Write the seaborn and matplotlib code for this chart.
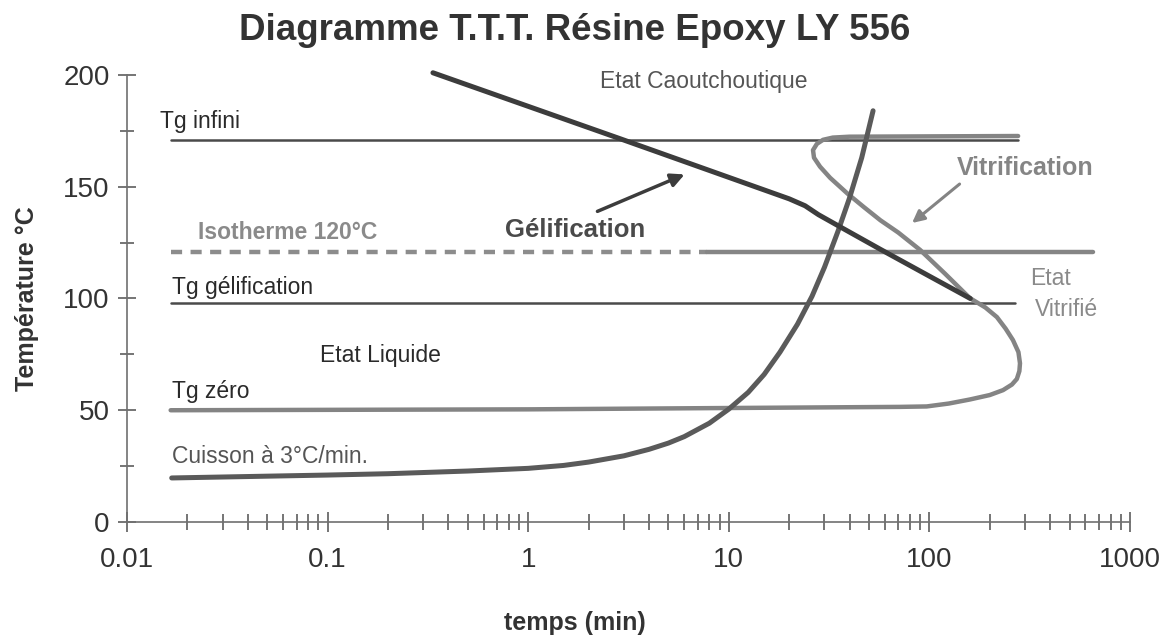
import numpy as np
import pandas as pd
import matplotlib
matplotlib.use("Agg")
import matplotlib.pyplot as plt
import seaborn as sns
from matplotlib.ticker import LogLocator, FixedLocator, NullFormatter

tg_infini_t = [0.0165, 277]
tg_infini_T = [171, 171]

iso_pointille_t = [0.0165, 7.8]
iso_continu_t = [7.8, 655]
iso_T = [121, 121]

tg_gel_t = [0.0165, 267]
tg_gel_T = [98, 98]

cuisson_t = [0.0167, 0.05, 0.1, 0.2, 0.5, 1, 1.5, 2, 3, 4, 5, 6, 8, 10, 12.5, 15,
             18, 22, 26, 30, 35, 40, 46, 52.4]
cuisson_T = [19.7, 20.5, 21, 21.6, 22.8, 24, 25.3, 26.8, 29.6, 32.5, 35.3, 38.2, 44.2, 50.5, 58, 66,
             76, 88.5, 101, 114, 130, 145, 163, 184]

gel_t = [0.335, 2.87, 20, 24, 28, 36, 57, 100, 160]
gel_T = [201, 171.5, 144.6, 141.5, 137.5, 132, 122, 110, 100]

# Tg zero + courbe de vitrification (une seule courbe)
vit_t = [0.0165, 1.0, 10, 71, 97, 125, 159, 200, 233, 258, 273, 281, 283, 278, 261, 240, 217, 190,
         159, 120, 90, 70, 57, 47, 39, 32, 28.5, 26.6, 26.3, 27.5, 29.5, 33, 40, 277]
vit_T = [50, 50.4, 51, 51.5, 51.7, 53, 54.8, 56.8, 59, 61.5, 64, 67.5, 71, 76, 81.4, 86.5, 91.7, 96,
         100.2, 111, 121.7, 129.5, 135, 141, 147, 154, 159, 163, 166.4, 169.2, 171, 172, 172.4, 172.7]

xticks = [0.01, 0.1, 1, 10, 100, 1000]
xticklabels = ["0.01", "0.1", "1", "10", "100", "1000"]
yticks = [0, 50, 100, 150, 200]

sns.set_style("white")
plt.rcParams["font.family"] = ["Liberation Sans", "DejaVu Sans"]

fig = plt.figure(figsize=(11.73, 6.4), dpi=100)
ax = fig.add_axes([0.1083, 0.1844, 0.855, 0.6984])

def courbe(t, T, color, lw, ls="-"):
    df = pd.DataFrame({"t": t, "T": T})
    sns.lineplot(data=df, x="t", y="T", sort=False, estimator=None, ax=ax,
                 color=color, lw=lw, ls=ls, clip_on=False,
                 solid_capstyle="round", solid_joinstyle="round")

courbe(tg_infini_t, tg_infini_T, "#4a4a4a", 1.8)
courbe(tg_gel_t, tg_gel_T, "#4a4a4a", 1.8)
courbe(iso_pointille_t, iso_T, "#8c8c8c", 3.2, ls=(0, (2.5, 1.9)))
courbe(iso_continu_t, iso_T, "#858585", 3.2)
courbe(vit_t, vit_T, "#848484", 3.2)
courbe(cuisson_t, cuisson_T, "#5a5a5a", 3.6)
courbe(gel_t, gel_T, "#3c3c3c", 3.6)

ax.set_xscale("log")
ax.set_xlim(0.01, 1000)
ax.set_ylim(0, 200)

ax.set_xticks(xticks)
ax.set_xticklabels(xticklabels)
ax.xaxis.set_minor_locator(LogLocator(base=10, subs=np.arange(2, 10)))
ax.xaxis.set_minor_formatter(NullFormatter())
ax.set_yticks(yticks)
ax.yaxis.set_minor_locator(FixedLocator([25, 75, 125, 175]))

for s in ["top", "right"]:
    ax.spines[s].set_visible(False)
for s in ["left", "bottom"]:
    ax.spines[s].set_color("#707070")
    ax.spines[s].set_linewidth(1.2)

ax.tick_params(axis="both", which="both", direction="inout", color="#505050", width=1.1,
               bottom=True, left=True)
ax.tick_params(axis="x", which="major", length=14, labelsize=20, pad=11)
ax.tick_params(axis="x", which="minor", length=11)
ax.tick_params(axis="y", which="major", length=13, labelsize=20, pad=6)
ax.tick_params(axis="y", which="minor", length=10)
for lab in ax.get_xticklabels() + ax.get_yticklabels():
    lab.set_color("#333333")

ax.set_xlabel("temps (min)", fontsize=18, fontweight="bold", color="#333333", va="top")
ax.xaxis.set_label_coords(0.447, -0.2)
ax.set_ylabel("Température °C", fontsize=18, fontweight="bold", color="#333333")
ax.yaxis.set_label_coords(-0.088, 0.5)
fig.text(0.49, 0.952, "Diagramme T.T.T. Résine Epoxy LY 556", ha="center", va="center",
         fontsize=26.5, fontweight="bold", color="#333333")

# fleches
ax.annotate("", xy=(6.2, 156), xytext=(2.15, 138.5),
            arrowprops=dict(arrowstyle="-|>", color="#3c3c3c", lw=2.5, mutation_scale=20))
ax.annotate("", xy=(80, 133), xytext=(145, 152),
            arrowprops=dict(arrowstyle="-|>", color="#848484", lw=2.2, mutation_scale=18))

# textes
txt = dict(ha="left", va="center", fontsize=16.5)
ax.text(0.0146, 179, "Tg infini", color="#2a2a2a", **txt)
ax.text(0.0226, 129.7, "Isotherme 120°C", color="#8a8a8a", fontweight="bold", **txt)
ax.text(0.77, 130.6, "Gélification", color="#4a4a4a", fontweight="bold", fontsize=18.5,
        ha="left", va="center")
ax.text(2.28, 197, "Etat Caoutchoutique", color="#555555", **txt)
ax.text(137, 158.4, "Vitrification", color="#858585", fontweight="bold", fontsize=18,
        ha="left", va="center")
ax.text(0.0168, 105, "Tg gélification", color="#2a2a2a", **txt)
ax.text(317, 109, "Etat", color="#8a8a8a", **txt)
ax.text(336, 95, "Vitrifié", color="#8a8a8a", **txt)
ax.text(0.0916, 74.3, "Etat Liquide", color="#2a2a2a", **txt)
ax.text(0.0168, 58.2, "Tg zéro", color="#2a2a2a", **txt)
ax.text(0.0168, 29.5, "Cuisson à 3°C/min.", color="#555555", **txt)

fig.savefig("out.png", dpi=100)
